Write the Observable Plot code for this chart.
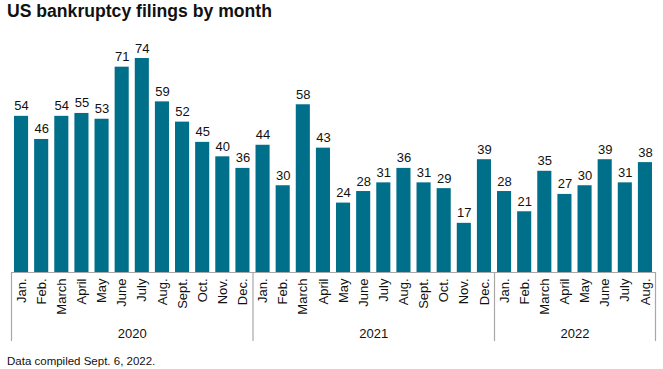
<!DOCTYPE html>
<html>
<head>
<meta charset="utf-8">
<script src="https://cdn.jsdelivr.net/npm/d3@7"></script>
<script src="https://cdn.jsdelivr.net/npm/@observablehq/plot@0.6"></script>
<style>
  body { margin: 0; background: #fff; font-family: "Liberation Sans", Arial, sans-serif; }
  #title { position: absolute; left: 7px; top: 1px; font-size: 17.6px; font-weight: bold; color: #111; }
  #chart { position: absolute; left: 0; top: 30px; }
  #caption { position: absolute; left: 7px; top: 355px; font-size: 11.5px; color: #111; }
</style>
</head>
<body>
<div id="title">US bankruptcy filings by month</div>
<div id="chart"></div>
<div id="caption">Data compiled Sept. 6, 2022.</div>
<script>
const years = ["2020", "2021", "2022"];
const months = ["Jan.", "Feb.", "March", "April", "May", "June", "July", "Aug.", "Sept.", "Oct.", "Nov.", "Dec."];
const values2020 = [54, 46, 54, 55, 53, 71, 74, 59, 52, 45, 40, 36];
const values2021 = [44, 30, 58, 43, 24, 28, 31, 36, 31, 29, 17, 39];
const values2022 = [28, 21, 35, 27, 30, 39, 31, 38];

const series = [values2020, values2021, values2022];
const data = [];
const yearSpans = [];
series.forEach((vals, yi) => {
  const start = data.length;
  vals.forEach((v, mi) => data.push({ i: data.length, year: years[yi], month: months[mi], value: v }));
  yearSpans.push({ year: years[yi], start: start - 0.5, end: data.length - 0.5 });
});
const separators = [...yearSpans.map(d => d.start), yearSpans[yearSpans.length - 1].end];

const color = "#006f8a";
const grey = "#a8a8a8";

const chart = Plot.plot({
  width: 663,
  height: 314,
  marginLeft: 11,
  marginRight: 8,
  marginTop: 28,
  marginBottom: 72,
  style: { fontFamily: "Liberation Sans, Arial, sans-serif", fontSize: "13px", color: "#111", background: "#fff" },
  x: { type: "linear", domain: [-0.5, data.length - 0.5], axis: null },
  y: { domain: [0, 74], axis: null },
  marks: [
    Plot.rectY(data, { x1: d => d.i - 0.35, x2: d => d.i + 0.35, y: "value", fill: color }),
    Plot.text(data, { x: "i", y: "value", text: d => String(d.value), lineAnchor: "bottom", dy: -6, fill: "#111", fontSize: 13 }),
    Plot.ruleY([0], { stroke: grey, strokeWidth: 1.2 }),
    Plot.ruleX(separators, { x: d => d, y1: 0, y2: 0, stroke: grey, strokeWidth: 1.2, render: (index, scales, values, dims, ctx, next) => {
      const g = next(index, scales, values, dims, ctx);
      d3.select(g).selectAll("line").attr("y2", dims.height - 3);
      return g;
    } }),
    Plot.text(data, { x: "i", text: "month", frameAnchor: "bottom", rotate: -90, textAnchor: "end", lineAnchor: "middle", dy: 6, fill: "#111", fontSize: 13 }),
    Plot.text(yearSpans, { x: d => (d.start + d.end) / 2, text: "year", frameAnchor: "bottom", lineAnchor: "middle", dy: 61, fill: "#111", fontSize: 13 })
  ]
});
document.getElementById("chart").appendChild(chart);
</script>
</body>
</html>
